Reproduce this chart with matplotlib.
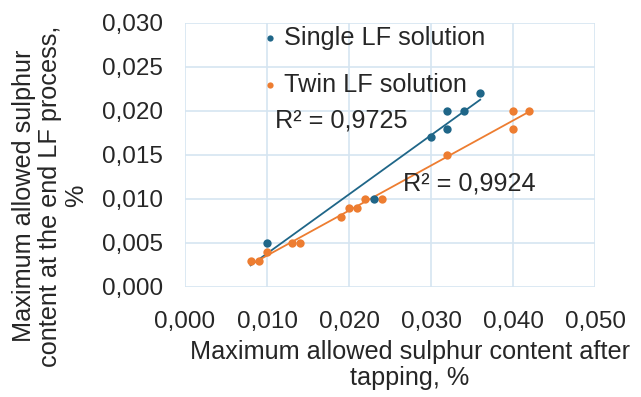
import numpy as np
import matplotlib
matplotlib.use("Agg")
import matplotlib.pyplot as plt
from matplotlib.ticker import FuncFormatter

# Data
single_x = [0.010, 0.023, 0.030, 0.032, 0.032, 0.034, 0.036]
single_y = [0.005, 0.010, 0.017, 0.018, 0.020, 0.020, 0.022]
twin_x = [0.008, 0.009, 0.010, 0.013, 0.014, 0.019, 0.020, 0.021, 0.022, 0.024,
          0.032, 0.040, 0.040, 0.042]
twin_y = [0.003, 0.003, 0.004, 0.005, 0.005, 0.008, 0.009, 0.009, 0.010, 0.010,
          0.015, 0.018, 0.020, 0.020]
single_label = "Single LF solution"
twin_label = "Twin LF solution"
r2_single = "R² = 0,9725"
r2_twin = "R² = 0,9924"
x_ticks = [0.0, 0.01, 0.02, 0.03, 0.04, 0.05]
y_ticks = [0.0, 0.005, 0.01, 0.015, 0.02, 0.025, 0.03]

plt.rcParams['font.family'] = ['Liberation Sans', 'DejaVu Sans']

blue = "#1f6688"
orange = "#ed7d31"
grid_c = "#d5e5f1"
txt_c = "#262626"
FS_TICK = 17.5
FS = 18.2

fig = plt.figure(figsize=(6.41, 3.97), dpi=100)
ax = fig.add_axes([185/641, 1-287/397, (595-185)/641, (287-23)/397])

ax.set_xlim(0, 0.05)
ax.set_ylim(0, 0.03)
ax.set_xticks(x_ticks)
ax.set_yticks(y_ticks)
fmt = FuncFormatter(lambda v, p: f"{v:.3f}".replace(".", ","))
ax.xaxis.set_major_formatter(fmt)
ax.yaxis.set_major_formatter(fmt)
ax.tick_params(length=0, labelsize=FS_TICK, colors=txt_c)
ax.tick_params(axis='y', pad=16)
ax.tick_params(axis='x', pad=17)
ax.grid(True, color=grid_c, linewidth=1.2)
ax.set_axisbelow(True)
for s in ax.spines.values():
    s.set_visible(False)

# trendlines
xmin_all = min(min(single_x), min(twin_x))
ps = np.polyfit(single_x, single_y, 1)
pt = np.polyfit(twin_x, twin_y, 1)
xs = np.array([xmin_all, max(single_x)])
xt = np.array([min(twin_x), max(twin_x)])
ax.plot(xs, np.polyval(ps, xs), color=blue, lw=1.3, zorder=2)
ax.plot(xt, np.polyval(pt, xt), color=orange, lw=1.3, zorder=2)

ax.plot(twin_x, twin_y, 'o', color=orange, ms=6, mew=0, zorder=3, label=twin_label)
ax.plot(single_x, single_y, 'o', color=blue, ms=6, mew=0, zorder=4, label=single_label)

# legend entries
ax.plot([0.0104], [0.0283], 'o', color=blue, ms=4.5, mew=0, clip_on=False)
ax.text(0.0121, 0.0283, single_label, fontsize=FS, color=txt_c, va='center')
ax.plot([0.0104], [0.0230], 'o', color=orange, ms=4.5, mew=0, clip_on=False)
ax.text(0.0121, 0.0230, twin_label, fontsize=FS, color=txt_c, va='center')

ax.text(0.0110, 0.0189, r2_single, fontsize=FS, color=txt_c, va='center')
ax.text(0.0266, 0.0118, r2_twin, fontsize=FS, color=txt_c, va='center')

fig.text(410/641, 1-365/397, "Maximum allowed sulphur content after\ntapping, %",
         fontsize=FS, color=txt_c, ha='center', va='center', linespacing=1.12)
fig.text(50/641, 1-196/397, "Maximum allowed sulphur\ncontent at the end LF process,\n%",
         fontsize=FS, color=txt_c, ha='center', va='center', rotation=90,
         linespacing=1.12)

fig.savefig("out.png", dpi=100)
